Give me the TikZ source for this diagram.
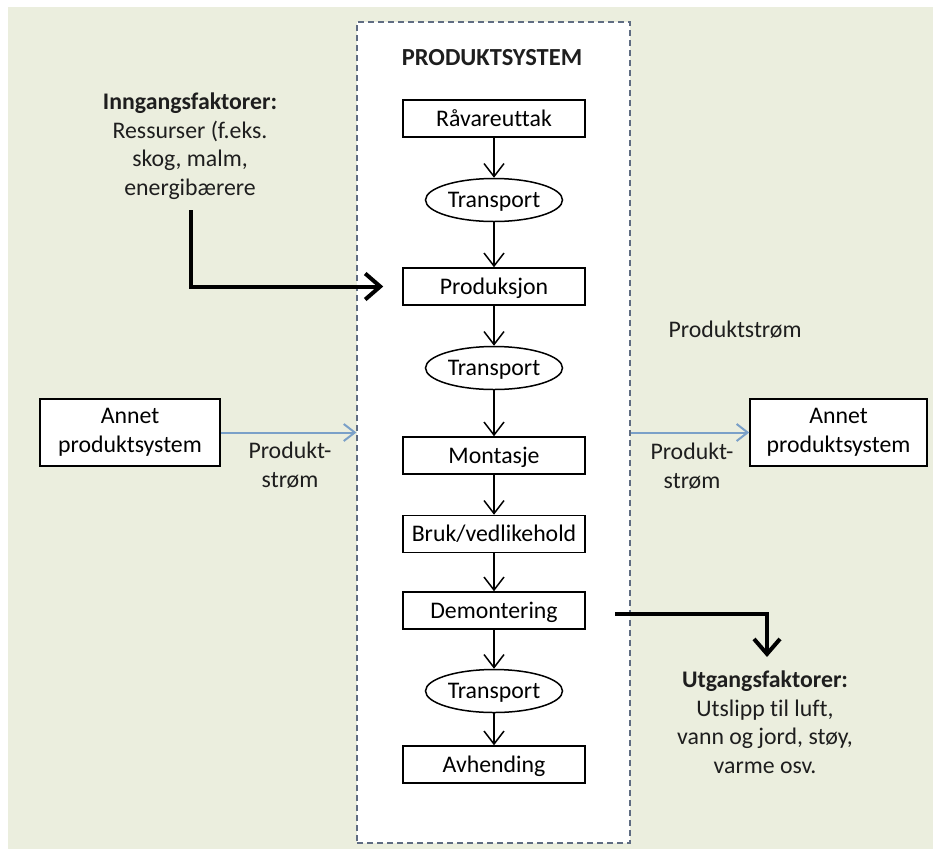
\documentclass[tikz,border=0pt]{standalone}
\usepackage{fontspec}
\setmainfont{Carlito}[Ligatures=NoCommon]
\usetikzlibrary{positioning,arrows.meta,shapes.geometric}
\definecolor{bakgrunn}{RGB}{235,238,222}
\definecolor{rammefarge}{RGB}{95,108,130}
\definecolor{stroemfarge}{RGB}{122,160,200}
\definecolor{tekstfarge}{RGB}{30,30,30}
\newcommand{\LcaFontSize}{\fontsize{23.8}{28.5}\selectfont}

\tikzset{
	trinn/.style={draw, line width=1.5pt, fill=white, minimum width=182pt, minimum height=37pt, inner sep=0pt, text height=18pt, text depth=3pt, font=\LcaFontSize},
	transport/.style={ellipse, draw, line width=1.5pt, fill=white, minimum width=137pt, minimum height=43pt, inner sep=0pt, text height=18pt, text depth=3pt, font=\LcaFontSize},
	annet/.style={draw, line width=1.5pt, fill=white, minimum height=67pt, inner sep=0pt, align=center, font=\LcaFontSize},
	tekst/.style={align=center, font=\LcaFontSize, text=tekstfarge},
	flyt/.style={-{Straight Barb[length=13pt,width=20pt]}, line width=1.5pt},
	stroem/.style={-{Straight Barb[length=11pt,width=17pt]}, line width=2pt, stroemfarge},
	tykkpil/.style={-{Straight Barb[length=15pt,width=26pt]}, line width=4pt},
}

\begin{document}
\begin{tikzpicture}[x=1pt, y=-1pt]
		\useasboundingbox (0,0) rectangle (933,849);
		\fill[bakgrunn] (8,7) rectangle (933,849);
		\node[draw=rammefarge, dashed, dash pattern=on 6pt off 4pt, fill=white, line width=1.2pt, minimum width=273pt, minimum height=821pt, inner sep=0pt] (system) at (493.5,432.5) {};
		\node[font=\bfseries\fontsize{24.5}{28}\selectfont, text=tekstfarge] (tittel) at (492,58) {PRODUKTSYSTEM};
		\node[trinn] (raavare) at (494,118.5) {Råvareuttak};
		\node[transport, below=40pt of raavare] (transport1) {Transport};
		\node[trinn, below=45pt of transport1] (produksjon) {Produksjon};
		\node[transport, below=40pt of produksjon] (transport2) {Transport};
		\node[trinn, below=46pt of transport2] (montasje) {Montasje};
		\node[trinn, below=40pt of montasje] (bruk) {Bruk/vedlikehold};
		\node[trinn, below=38pt of bruk] (demontering) {Demontering};
		\node[transport, below=39pt of demontering] (transport3) {Transport};
		\node[trinn, below=32pt of transport3] (avhending) {Avhending};
		\foreach \fra/\til in {raavare/transport1, transport1/produksjon, produksjon/transport2, transport2/montasje, montasje/bruk, bruk/demontering, demontering/transport3, transport3/avhending}
			\draw[flyt] (\fra) -- (\til);

		\node[annet, minimum width=180pt] (annetinn) at (130,432.5) {Annet\\produktsystem};
		\node[annet, minimum width=177pt] (annetut) at (838.5,432.5) {Annet\\produktsystem};
		\draw[stroem] (annetinn.east) -- (annetinn.east -| system.west);
		\draw[stroem] (annetut.west -| system.east) -- (annetut.west);
		\node[tekst] (stroeminn) at (290,465) {Produkt-\\strøm};
		\node[tekst] (stroemut) at (692,466) {Produkt-\\strøm};
		\node[tekst] (stroemtekst) at (735,330) {Produktstrøm};

		\node[tekst] (inngang) at (190,146) {\textbf{Inngangsfaktorer:}\\Ressurser (f.eks.\\skog, malm,\\energibærere};
		\coordinate (innstart) at (191,210);
		\draw[tykkpil, shorten >=19pt] (innstart) |- (produksjon.west);

		\node[tekst] (utgang) at (765,722) {\textbf{Utgangsfaktorer:}\\Utslipp til luft,\\vann og jord, støy,\\varme osv.};
		\coordinate (utstart) at (615,614);
		\coordinate (utslutt) at (767,657);
		\draw[tykkpil] (utstart) -| (utslutt);
	\end{tikzpicture}
\end{document}
